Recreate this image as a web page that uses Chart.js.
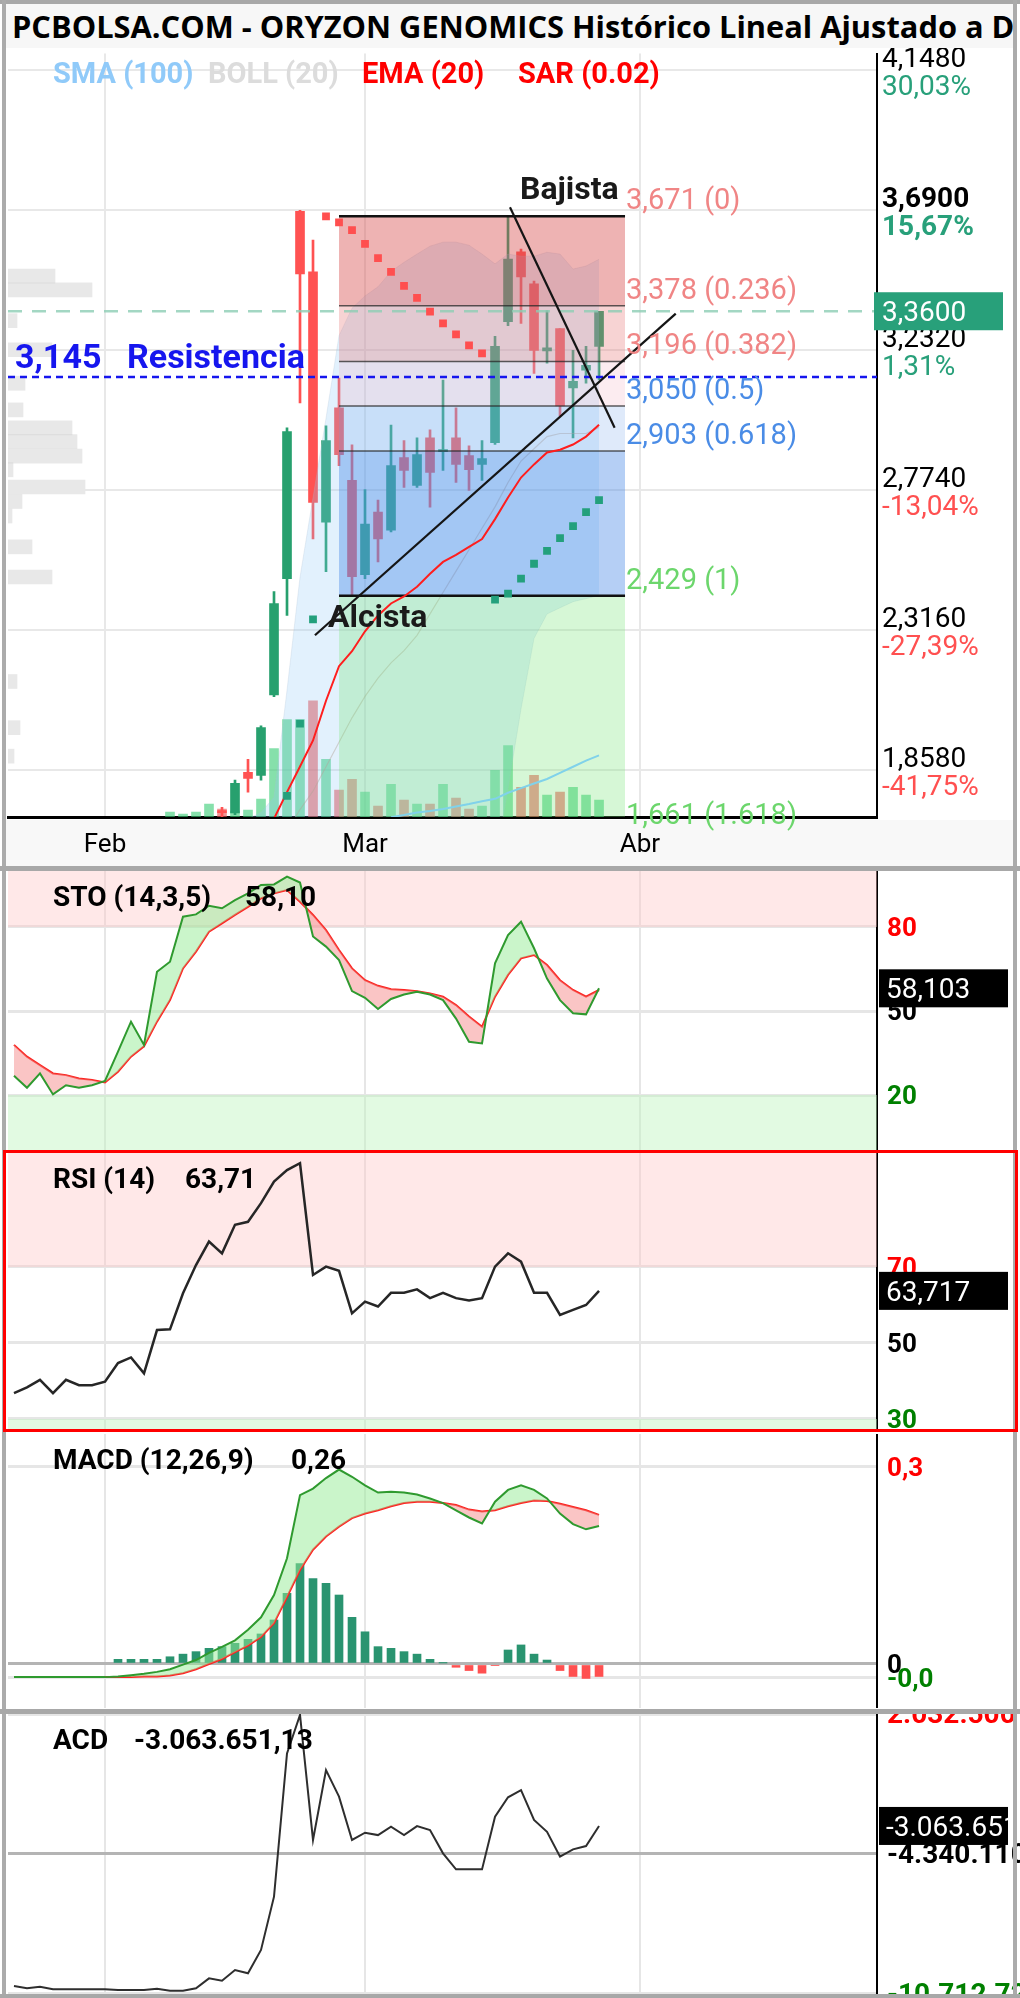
<!DOCTYPE html>
<html>
<head>
<meta charset="utf-8">
<script src="https://cdn.jsdelivr.net/npm/chart.js@4.4.1/dist/chart.umd.min.js"></script>
<style>
html,body{margin:0;padding:0;background:#fff;}
#page{position:relative;width:1020px;height:1998px;overflow:hidden;background:#fff;}
canvas{position:absolute;display:block;}
.d{position:absolute;}
#title{position:absolute;left:5px;top:4px;width:1008px;height:44px;background:#F7F7F7;overflow:hidden;white-space:nowrap;z-index:10;}
#title span{position:absolute;left:7px;top:0;font:bold 30.8px "Open Sans";line-height:44px;color:#000;}
</style>
</head>
<body>
<div id="page">
  <div class="d" style="left:5px;top:820px;width:1008px;height:46px;background:#F8F8F8;z-index:0"></div>
  <canvas id="vp" width="869" height="769" style="left:8px;top:48px;z-index:1"></canvas>
  <canvas id="main" width="1020" height="820" style="left:0;top:48px;z-index:2"></canvas>
  <canvas id="sto" width="1020" height="280" style="left:0;top:871px;z-index:2"></canvas>
  <canvas id="rsi" width="1020" height="277" style="left:0;top:1153px;z-index:2"></canvas>
  <canvas id="macd" width="1020" height="274" style="left:0;top:1434px;z-index:2"></canvas>
  <canvas id="acd" width="1020" height="284" style="left:0;top:1714px;z-index:2"></canvas>
  <div id="title"><span>PCBOLSA.COM - ORYZON GENOMICS Histórico Lineal Ajustado a D</span></div>
  <div class="d" style="left:0;top:0;width:1020px;height:4px;background:#A8A8A8;z-index:11"></div>
  <div class="d" style="left:2px;top:0;width:4px;height:1998px;background:#ABABAB;z-index:11"></div>
  <div class="d" style="left:1013px;top:0;width:4px;height:1998px;background:#ABABAB;z-index:11"></div>
  <div class="d" style="left:0;top:866px;width:1020px;height:5px;background:#A8A8A8;z-index:11"></div>
  <div class="d" style="left:0;top:1709px;width:1020px;height:5px;background:#A8A8A8;z-index:11"></div>
  <div class="d" style="left:0;top:1994px;width:1020px;height:4px;background:#A8A8A8;z-index:11"></div>
  <div class="d" style="left:3px;top:1150px;width:1015px;height:282px;border:3px solid #FF0000;box-sizing:border-box;z-index:12"></div>
</div>
<script>
// ---------------- DATA ----------------
const monthTicks = [-20, 0, 21.15];
const monthLabels = ['Feb', 'Mar', 'Abr'];

const priceTicks = [1.858, 2.316, 2.774, 3.232, 3.69, 4.148];
const priceTickPct = ['-41,75%', '-27,39%', '-13,04%', '1,31%', '15,67%', '30,03%'];
const lastPrice = 3.36;
const resistance = 3.145;

const candleIdx  = [-11,-10,-9,-8,-7,-6,-5,-4,-3,-2,-1,0,1,2,3,4,5,6,7,8,9,10,11,12,13,14,15,16,17,18];
const candleOpen = [1.727,1.719,1.852,1.842,2.105,2.485,3.687,3.489,2.670,3.044,2.807,2.498,2.703,2.644,2.881,2.790,2.946,2.901,2.946,2.888,2.859,2.930,3.326,3.554,3.450,3.230,3.303,3.109,3.167,3.245];
const candleHigh = [1.737,1.826,1.894,2.004,2.443,2.979,3.690,3.593,2.985,3.141,2.923,2.777,2.742,2.988,2.937,2.946,2.972,3.135,3.044,2.920,2.937,3.278,3.671,3.563,3.459,3.362,3.303,3.232,3.245,3.360];
const candleLow  = [1.700,1.713,1.787,1.826,2.099,2.365,3.060,2.615,2.508,2.855,2.429,2.485,2.540,2.638,2.784,2.784,2.719,2.839,2.800,2.774,2.807,2.924,3.313,3.320,3.157,3.190,3.018,2.946,3.125,3.135];
const candleClose= [1.720,1.816,1.832,1.998,2.404,2.966,3.482,2.735,2.937,2.891,2.492,2.664,2.615,2.855,2.839,2.891,2.833,2.907,2.859,2.842,2.878,3.245,3.531,3.472,3.232,3.240,3.050,3.131,3.183,3.360];

const volIdx = [-15,-14,-13,-12,-11,-10,-9,-8,-7,-6,-5,-4,-3,-2,-1,0,1,2,3,4,5,6,7,8,9,10,11,12,13,14,15,16,17,18];
const volume = [5,3,5,13,8,6,7,18,69,98,98,117,58,27,38,25,11,33,17,13,13,33,19,8,11,47,72,30,42,22,25,30,22,17];
const volUp  = [1,1,1,1,0,1,1,1,1,1,1,0,1,0,0,1,0,1,0,1,0,1,0,0,1,1,1,0,0,1,0,1,1,1];

const vpPrice  = [3.547,3.495,3.378,3.268,3.141,3.040,2.972,2.920,2.865,2.813,2.748,2.693,2.638,2.521,2.407,2.011,1.836,1.728];
const vpVolume = [47,84,9,44,17,15,64,69,74,5,77,14,4,24,44,9,12,6];

const sarIdx = [-6,-5,-4,-3,-2,-1,0,1,2,3,4,5,6,7,8,9,10,11,12,13,14,15,16,17,18];
const sarVal = [1.775,2.011,2.352,3.670,3.651,3.625,3.580,3.534,3.489,3.443,3.404,3.359,3.320,3.284,3.248,3.222,2.417,2.436,2.485,2.534,2.576,2.618,2.657,2.703,2.742];

const emaIdx = [-8,-7,-6,-5,-4,-3,-2,-1,0,1,2,3,4,5,6,7,8,9,10,11,12,13,14,15,16,17,18];
const ema20  = [1.62,1.70,1.787,1.871,1.956,2.086,2.199,2.248,2.313,2.365,2.404,2.427,2.459,2.501,2.540,2.563,2.589,2.615,2.680,2.751,2.816,2.859,2.898,2.907,2.924,2.950,2.989];

const smaIdx = [2,3,4,5,6,7,8,9,10,11,12,13,14,15,16,17,18];
const sma100 = [1.705,1.712,1.720,1.725,1.732,1.740,1.748,1.757,1.765,1.785,1.800,1.815,1.830,1.850,1.870,1.890,1.907];

const bollIdx   = [-9,-8,-7,-6,-5,-4,-3,-2,-1,0,1,2,3,4,5,6,7,8,9,10,11,12,13,14,15,16,17,18];
const bollUpper = [1.70,1.72,1.77,2.12,2.49,2.75,3.01,3.28,3.37,3.41,3.44,3.49,3.52,3.547,3.573,3.586,3.586,3.576,3.547,3.515,3.547,3.54,3.54,3.553,3.547,3.498,3.508,3.53];
const bollMid   = [1.60,1.59,1.56,1.66,1.73,1.79,1.87,1.95,2.03,2.10,2.16,2.21,2.25,2.30,2.37,2.44,2.51,2.58,2.65,2.72,2.80,2.87,2.91,2.95,2.96,2.96,2.96,2.98];
const bollLower = [1.50,1.45,1.35,1.20,1.05,0.95,0.90,0.90,0.92,0.95,0.98,1.00,1.05,1.10,1.15,1.20,1.25,1.30,1.40,1.55,1.80,2.06,2.29,2.37,2.39,2.41,2.42,2.43];

const fibLevels = [3.671, 3.378, 3.196, 3.050, 2.903, 2.429, 1.661];
const fibRatios = ['0', '0.236', '0.382', '0.5', '0.618', '1', '1.618'];
const fibStart = -2, fibEnd = 20.0;

const trendUp   = [{x:-3.85, y:2.300}, {x:23.9, y:3.352}];
const trendDown = [{x:11.15, y:3.700}, {x:19.2, y:2.979}];

const indIdx = [-27,-26,-25,-24,-23,-22,-21,-20,-19,-18,-17,-16,-15,-14,-13,-12,-11,-10,-9,-8,-7,-6,-5,-4,-3,-2,-1,0,1,2,3,4,5,6,7,8,9,10,11,12,13,14,15,16,17,18];
const stoK = [26.9,22.6,27.7,20.2,23.5,22.6,23.5,25.0,35.5,46.2,37.9,64.0,67.6,83.7,84.5,87.6,86.7,89.6,92.0,95.0,95.2,98.0,95.9,76.6,73.0,68.2,57.1,54.7,50.7,54.3,55.9,56.9,55.9,53.9,47.3,39.0,38.4,67.0,77.1,81.9,72.4,61.6,53.9,49.2,48.8,58.1];
const stoD = [37.9,33.7,30.7,27.7,27.1,25.9,25.4,24.5,28.3,33.7,37.4,46.2,53.9,65.2,71.2,78.3,81.3,84.3,87.2,90.2,92.0,93.2,89.0,84.3,78.9,71.8,65.2,61.0,59.0,57.8,57.5,57.1,56.3,55.1,52.1,48.0,44.4,55.1,62.9,68.8,70.0,66.4,61.0,57.5,55.1,57.5];
const rsi14 = [36.8,38.3,40.3,36.8,40.3,38.9,38.9,39.8,44.7,46.2,42.0,53.4,53.6,63.1,70.5,76.7,73.6,81.1,81.9,86.8,92.5,95.5,97.3,67.9,70.1,69.0,57.8,60.9,59.6,63.2,63.2,64.1,61.8,63.2,61.8,61.2,61.8,70.1,73.6,71.4,63.2,63.2,57.4,58.7,60.0,63.71];
const macdLine = [-0.020,-0.020,-0.020,-0.020,-0.020,-0.020,-0.020,-0.020,-0.019,-0.017,-0.015,-0.012,-0.008,-0.001,0.006,0.017,0.026,0.036,0.052,0.071,0.105,0.161,0.257,0.267,0.283,0.296,0.285,0.272,0.261,0.262,0.261,0.258,0.252,0.245,0.234,0.223,0.214,0.247,0.265,0.272,0.265,0.252,0.229,0.213,0.205,0.210];
const macdSignal = [-0.020,-0.020,-0.020,-0.020,-0.020,-0.020,-0.020,-0.020,-0.020,-0.020,-0.019,-0.019,-0.0175,-0.014,-0.008,0.0,0.0076,0.018,0.028,0.041,0.062,0.102,0.143,0.174,0.194,0.209,0.222,0.229,0.234,0.240,0.245,0.247,0.247,0.245,0.242,0.235,0.232,0.234,0.240,0.245,0.249,0.248,0.244,0.239,0.234,0.227];
const histIdx = [-19,-18,-17,-16,-15,-14,-13,-12,-11,-10,-9,-8,-7,-6,-5,-4,-3,-2,-1,0,1,2,3,4,5,6,7,8,9,10,11,12,13,14,15,16,17,18];
const macdHist = [0.0071,0.0071,0.0071,0.0071,0.011,0.015,0.0188,0.0238,0.0264,0.0315,0.0375,0.0457,0.067,0.1076,0.153,0.130,0.1228,0.105,0.071,0.049,0.0264,0.0238,0.0188,0.015,0.0071,0.0015,-0.005,-0.010,-0.014,-0.002,0.0213,0.029,0.015,0.006,-0.010,-0.019,-0.022,-0.019];
const acd = [-10350000,-10450000,-10380000,-10500000,-10500000,-10500000,-10500000,-10500000,-10530000,-10530000,-10530000,-10470000,-10560000,-10560000,-10450000,-10000000,-10110000,-9620000,-9770000,-8710000,-6280000,240000,1990000,-3700000,-520000,-1730000,-3700000,-3370000,-3480000,-3100000,-3480000,-3070000,-3250000,-4310000,-5040000,-5040000,-5040000,-2640000,-1760000,-1430000,-2790000,-3330000,-4460000,-4130000,-3980000,-3063651.13];

// ---------------- HELPERS ----------------
const XMIN = -27.46, XMAX = 39.38;
const GREEN = '#27A06E', RED = '#FF5252';
Chart.defaults.font.family = 'Roboto';
Chart.defaults.animation = false;
Chart.defaults.events = [];
Chart.defaults.plugins.legend.display = false;
Chart.defaults.plugins.tooltip.enabled = false;

const pts = (xs, ys) => xs.map((x, i) => ({x, y: ys[i]}));
const dec = (v, d) => v.toFixed(d).replace('.', ',');
const thou = v => (v < 0 ? '-' : '') + Math.round(Math.abs(v)).toString().replace(/\B(?=(\d{3})+(?!\d))/g, '.');
function txt(ctx, s, x, y, font, color, align) {
  ctx.save(); ctx.font = font; ctx.fillStyle = color; ctx.textAlign = align || 'left'; ctx.textBaseline = 'alphabetic';
  ctx.fillText(s, x, y); ctx.restore();
}
function hline(y, color, width, dash, order) {
  return {type: 'line', data: [{x: XMIN, y}, {x: XMAX, y}], borderColor: color, borderWidth: width, borderDash: dash || [], pointRadius: 0, fill: false, order};
}
function zone(y, fill, color) {
  return {type: 'line', data: [{x: XMIN, y}, {x: XMAX, y}], borderWidth: 0, borderColor: 'rgba(0,0,0,0)', pointRadius: 0, fill, backgroundColor: color, order: 50};
}
function xScaleHidden() {
  return {type: 'linear', min: XMIN, max: XMAX, offset: false,
    afterBuildTicks: s => { s.ticks = monthTicks.map(v => ({value: v})); },
    afterFit: s => { s.height = 0; },
    ticks: {display: false}, grid: {color: '#E6E6E6', lineWidth: 2, drawTicks: false, offset: false}, border: {display: false}};
}

// ---------------- VOLUME PROFILE ----------------
new Chart(document.getElementById('vp'), {
  type: 'bar',
  data: {datasets: [{data: pts(vpVolume, vpPrice), backgroundColor: 'rgba(200,200,200,0.42)', barThickness: 14}]},
  options: {indexAxis: 'y', responsive: false, layout: {padding: 0},
    scales: {x: {type: 'linear', min: 0, max: 869, display: false}, y: {type: 'linear', min: 1.7056, max: 4.2031, display: false}}}
});

// ---------------- MAIN CHART ----------------
const fibBandColors = ['rgba(215,75,75,0.42)', 'rgba(230,110,110,0.30)', 'rgba(240,150,170,0.18)', 'rgba(110,160,230,0.22)', 'rgba(60,130,230,0.38)', 'rgba(120,230,120,0.30)'];
const fibLabelColors = ['#F08585', '#F08585', '#F08585', '#4A8CE6', '#4A8CE6', '#6CD66C', '#6CD66C'];
const mainDatasets = [];
mainDatasets.push({type: 'line', data: trendUp, borderColor: '#151515', borderWidth: 2.2, pointRadius: 0, order: 0});
mainDatasets.push({type: 'line', data: trendDown, borderColor: '#151515', borderWidth: 2.2, pointRadius: 0, order: 0});
mainDatasets.push({type: 'line', data: pts(sarIdx, sarVal), showLine: false, pointStyle: 'rect', pointRadius: 5.5, pointBorderWidth: 0,
  pointBackgroundColor: sarIdx.map((x, i) => { const k = candleIdx.indexOf(x); return sarVal[i] > candleClose[k] ? '#FF4F4F' : '#23A07C'; }), order: 1});
mainDatasets.push({type: 'line', data: pts(emaIdx, ema20), borderColor: '#FF1E1E', borderWidth: 2, pointRadius: 0, order: 2});
mainDatasets.push({type: 'line', data: pts(smaIdx, sma100), borderColor: '#80D2EA', borderWidth: 2, pointRadius: 0, order: 2});
mainDatasets.push(hline(resistance, '#1616EE', 2.5, [7, 5], 3));
mainDatasets.push(hline(lastPrice, 'rgba(140,205,180,0.8)', 2.5, [14, 10], 3));
fibLevels.forEach((L, k) => {
  const thick = (k === 0 || k === 5);
  mainDatasets.push({type: 'line', data: [{x: fibStart, y: L}, {x: fibEnd, y: L}], borderColor: thick ? '#111' : 'rgba(40,40,40,0.75)',
    borderWidth: thick ? 2.5 : 1.5, pointRadius: 0, order: 5,
    fill: k === 0 ? false : {value: fibLevels[k - 1]}, backgroundColor: k === 0 ? 'rgba(0,0,0,0)' : fibBandColors[k - 1]});
});
const bollUpIndex = mainDatasets.length;
mainDatasets.push({type: 'line', data: pts(bollIdx, bollUpper), borderColor: 'rgba(170,190,210,0.25)', borderWidth: 1, pointRadius: 0, order: 8,
  fill: bollUpIndex + 1, backgroundColor: 'rgba(144,202,249,0.26)'});
mainDatasets.push({type: 'line', data: pts(bollIdx, bollLower), borderColor: 'rgba(170,190,210,0.25)', borderWidth: 1, pointRadius: 0, order: 8});
mainDatasets.push({type: 'line', data: pts(bollIdx, bollMid), borderColor: 'rgba(190,150,120,0.45)', borderWidth: 1.2, pointRadius: 0, order: 8});
const candleColors = candleClose.map((c, i) => c >= candleOpen[i] ? GREEN : RED);
mainDatasets.push({type: 'bar', data: candleIdx.map((x, i) => ({x, y: [candleOpen[i], candleClose[i]]})), backgroundColor: candleColors,
  barThickness: 9, minBarLength: 2, grouped: false, order: 9});
mainDatasets.push({type: 'bar', data: candleIdx.map((x, i) => ({x, y: [candleLow[i], candleHigh[i]]})), backgroundColor: candleColors,
  barThickness: 2, grouped: false, order: 10});
mainDatasets.push({type: 'bar', yAxisID: 'yv', data: pts(volIdx, volume),
  backgroundColor: volUp.map(u => u ? 'rgba(60,205,120,0.62)' : 'rgba(235,80,80,0.62)'), barThickness: 9, grouped: false, order: 11});

const mainLabels = {
  id: 'mainLabels',
  afterDraw(chart) {
    const ctx = chart.ctx, xs = chart.scales.x, ys = chart.scales.y;
    txt(ctx, 'SMA (100)', 53, 35, 'bold 29px Roboto', '#90CAF9');
    txt(ctx, 'BOLL (20)', 208, 35, 'bold 29px Roboto', '#DCDCDC');
    txt(ctx, 'EMA (20)', 362, 35, 'bold 29px Roboto', '#FF0000');
    txt(ctx, 'SAR (0.02)', 518, 35, 'bold 29px Roboto', '#FF0000');
    const ry = ys.getPixelForValue(resistance);
    txt(ctx, dec(resistance, 3), 15, ry - 9, 'bold 34px Roboto', '#1616EE');
    txt(ctx, 'Resistencia', 127, ry - 9, 'bold 34px Roboto', '#1616EE');
    const fx = xs.getPixelForValue(fibEnd) + 1;
    fibLevels.forEach((L, k) => {
      txt(ctx, dec(L, 3) + ' (' + fibRatios[k] + ')', fx, ys.getPixelForValue(L) - 7, '29px Roboto', fibLabelColors[k]);
    });
    txt(ctx, 'Bajista', xs.getPixelForValue(trendDown[0].x) + 10, ys.getPixelForValue(trendDown[0].y) - 8, 'bold 32px Roboto', '#1a1a1a');
    txt(ctx, 'Alcista', xs.getPixelForValue(trendUp[0].x) + 13, ys.getPixelForValue(trendUp[0].y) - 8, 'bold 32px Roboto', '#1a1a1a');
    priceTicks.forEach((v, i) => {
      const y = ys.getPixelForValue(v);
      const bold = (v === 3.69);
      txt(ctx, dec(v, 4), 882, y - 3, (bold ? 'bold ' : '') + '28px Roboto', '#000');
      txt(ctx, priceTickPct[i], 882, y + 25, (bold ? 'bold ' : '') + '28px Roboto', priceTickPct[i].startsWith('-') ? '#FF5050' : '#28A07A');
    });
    const py = ys.getPixelForValue(lastPrice);
    ctx.save(); ctx.fillStyle = '#28A07A'; ctx.fillRect(874, py - 19, 129, 38); ctx.restore();
    txt(ctx, dec(lastPrice, 4), 882, py + 10, '28px Roboto', '#fff');
  }
};

new Chart(document.getElementById('main'), {
  type: 'bar',
  data: {datasets: mainDatasets},
  options: {
    responsive: false, layout: {padding: {left: 8, right: 0, top: 0, bottom: 0}},
    plugins: {filler: {propagate: false}},
    scales: {
      x: {type: 'linear', min: XMIN, max: XMAX, offset: false,
        afterBuildTicks: s => { s.ticks = monthTicks.map(v => ({value: v})); },
        afterFit: s => { s.height = 51; },
        ticks: {autoSkip: false, maxRotation: 0, padding: 13, color: '#000', font: {size: 26, family: 'Roboto'}, callback: (v, i) => monthLabels[i]},
        grid: {color: '#E8E8E8', lineWidth: 2, drawTicks: false, offset: false},
        border: {display: true, color: '#000', width: 3}},
      y: {type: 'linear', position: 'right', min: 1.7056, max: 4.2031,
        afterBuildTicks: s => { s.ticks = priceTicks.map(v => ({value: v})); },
        afterFit: s => { s.width = 143; },
        ticks: {display: false}, grid: {color: '#E8E8E8', lineWidth: 2, drawTicks: false},
        border: {display: true, color: '#000', width: 2}},
      yv: {type: 'linear', display: false, min: 0, max: 769}
    }
  },
  plugins: [mainLabels]
});

// ---------------- INDICATORS ----------------
function indicator(id, top, cfg) {
  const plugin = {
    id: 'lbl_' + id,
    afterDraw(chart) {
      const ctx = chart.ctx, ys = chart.scales.y;
      txt(ctx, cfg.title, 53, cfg.titleY - top, 'bold 28px Roboto', '#000');
      txt(ctx, cfg.value, cfg.valueX, cfg.titleY - top, 'bold 28px Roboto', '#000');
      cfg.tickLabels.forEach(t => txt(ctx, t.text, 887, ys.getPixelForValue(t.v) + 9, 'bold ' + (cfg.tickSize || 26) + 'px Roboto', t.color));
      if (cfg.box.text) {
        const by = ys.getPixelForValue(cfg.box.v);
        ctx.save(); ctx.fillStyle = '#000'; ctx.fillRect(879, by - 19, 129, 38);
        ctx.beginPath(); ctx.rect(879, by - 19, 129, 38); ctx.clip();
        txt(ctx, cfg.box.text, 886, by + 10, '28px Roboto', '#fff'); ctx.restore();
      }
    }
  };
  new Chart(document.getElementById(id), {
    type: 'bar',
    data: {datasets: cfg.datasets},
    options: {
      responsive: false, layout: {padding: {left: 8, right: 0, top: 0, bottom: 0}},
      plugins: {filler: {propagate: false}},
      scales: {
        x: xScaleHidden(),
        y: {type: 'linear', position: 'right', min: cfg.min, max: cfg.max,
          afterBuildTicks: s => { s.ticks = cfg.gridVals.map(v => ({value: v})); },
          afterFit: s => { s.width = 143; },
          ticks: {display: false},
          grid: {drawTicks: false, lineWidth: 3, color: c => (c.tick && cfg.darkGrid === c.tick.value) ? '#B4B4B4' : '#E6E6E6'},
          border: {display: true, color: '#000', width: 2}}
      }
    },
    plugins: [plugin]
  });
}

indicator('sto', 871, {
  min: 0, max: 100, gridVals: [20, 50, 80],
  title: 'STO (14,3,5)', value: dec(stoK[stoK.length - 1], 2), valueX: 245, titleY: 906,
  tickLabels: [{v: 80, text: '80', color: '#FF0000'}, {v: 50, text: '50', color: '#000'}, {v: 20, text: '20', color: '#008000'}],
  box: {v: 58.103, text: '58,103'},
  datasets: [
    {type: 'line', data: pts(indIdx, stoK), borderColor: '#2F9A2F', borderWidth: 2, pointRadius: 0, order: 1,
      fill: {target: 1, above: 'rgba(150,235,150,0.5)', below: 'rgba(245,140,140,0.5)'}},
    {type: 'line', data: pts(indIdx, stoD), borderColor: '#FF2020', borderWidth: 2, pointRadius: 0, order: 2},
    zone(80, 'end', 'rgba(255,200,200,0.42)'),
    zone(20, 'start', 'rgba(190,245,190,0.45)')
  ]
});

indicator('rsi', 1153, {
  min: 27.1, max: 100, gridVals: [30, 50, 70],
  title: 'RSI (14)', value: dec(rsi14[rsi14.length - 1], 2), valueX: 185, titleY: 1188,
  tickLabels: [{v: 70, text: '70', color: '#FF0000'}, {v: 50, text: '50', color: '#000'}, {v: 30, text: '30', color: '#008000'}],
  box: {v: 63.717, text: '63,717'},
  datasets: [
    {type: 'line', data: pts(indIdx, rsi14), borderColor: '#262626', borderWidth: 2.5, pointRadius: 0, order: 1},
    zone(70, 'end', 'rgba(255,200,200,0.42)'),
    zone(30, 'start', 'rgba(190,245,190,0.45)')
  ]
});

indicator('macd', 1434, {
  min: -0.0670, max: 0.3501, gridVals: [-0.0213, 0, 0.3], darkGrid: 0,
  title: 'MACD (12,26,9)', value: '0,26', valueX: 291, titleY: 1469,
  tickLabels: [{v: 0.3, text: '0,3', color: '#FF0000'}, {v: 0, text: '0', color: '#000'}, {v: -0.0213, text: '-0,0', color: '#008000'}],
  box: {v: 0, text: ''},
  datasets: [
    {type: 'line', data: pts(indIdx, macdLine), borderColor: '#2F9A2F', borderWidth: 2, pointRadius: 0, order: 1,
      fill: {target: 1, above: 'rgba(150,235,150,0.5)', below: 'rgba(245,140,140,0.5)'}},
    {type: 'line', data: pts(indIdx, macdSignal), borderColor: '#FF2020', borderWidth: 2, pointRadius: 0, order: 2},
    {type: 'bar', data: pts(histIdx, macdHist), backgroundColor: macdHist.map(v => v >= 0 ? '#2A9470' : '#FF5050'), barThickness: 8, grouped: false, order: 3}
  ]
});

indicator('acd', 1714, {
  min: -10895180, max: 2032500, gridVals: [-10712720, -4340110, 2032500], darkGrid: -4340110, tickSize: 28,
  title: 'ACD', value: '-3.063.651,13', valueX: 134, titleY: 1749,
  tickLabels: [{v: 2032500, text: thou(2032500), color: '#FF0000'}, {v: -4340110, text: thou(-4340110), color: '#000'}, {v: -10712720, text: thou(-10712720), color: '#008000'}],
  box: {v: -3063651, text: thou(-3063651)},
  datasets: [
    {type: 'line', data: pts(indIdx, acd), borderColor: '#2E2E2E', borderWidth: 2, pointRadius: 0, order: 1}
  ]
});
</script>
</body>
</html>
